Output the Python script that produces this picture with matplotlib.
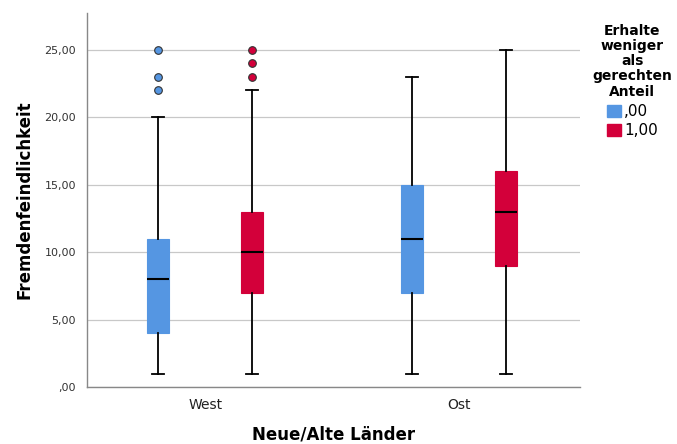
import matplotlib.pyplot as plt
import matplotlib.patches as mpatches
from matplotlib.ticker import FuncFormatter

groups = ['West', 'Ost']
series = [',00', '1,00']
colors = ['#5596E2', '#D3003A']

# five-number summaries: [low whisker, q1, median, q3, high whisker]
west_00 = [1, 4, 8, 11, 20]
west_100 = [1, 7, 10, 13, 22]
ost_00 = [1, 7, 11, 15, 23]
ost_100 = [1, 9, 13, 16, 25]
west_00_out = [22, 23, 25]
west_100_out = [23, 24, 25]
ost_00_out = []
ost_100_out = []

summaries = [[west_00, west_100], [ost_00, ost_100]]
outliers = [[west_00_out, west_100_out], [ost_00_out, ost_100_out]]

fig = plt.figure(figsize=(6.77, 4.44), dpi=100)
ax = fig.add_axes([0.1285, 0.1284, 0.7285, 0.8423])

offset = 0.185
width = 0.087
for gi, g in enumerate(groups):
    for si in range(len(series)):
        lo, q1, med, q3, hi = summaries[gi][si]
        st = dict(whislo=lo, q1=q1, med=med, q3=q3, whishi=hi, fliers=outliers[gi][si])
        pos = gi + (si - 0.5) * 2 * offset
        ax.bxp([st], positions=[pos], widths=width, patch_artist=True,
               boxprops=dict(facecolor=colors[si], edgecolor=colors[si], linewidth=0.8),
               medianprops=dict(color='black', linewidth=1.5),
               whiskerprops=dict(color='black', linewidth=1.3),
               capprops=dict(color='black', linewidth=1.3),
               capwidths=width * 0.55,
               flierprops=dict(marker='o', markersize=5.5, markerfacecolor=colors[si],
                               markeredgecolor='#333333', markeredgewidth=0.8),
               zorder=3)

ax.set_xlim(-0.465, 1.476)
ax.set_ylim(0, 27.74)
ax.set_xticks(range(len(groups)))
ax.set_xticklabels(groups, fontsize=10, color='#222222')
ax.set_yticks([0, 5, 10, 15, 20, 25])
ax.yaxis.set_major_formatter(FuncFormatter(
    lambda v, p: ',00' if v == 0 else f'{v:.2f}'.replace('.', ',')))
ax.tick_params(axis='y', labelsize=8, colors='#333333', length=0, pad=8)
ax.tick_params(axis='x', length=0, pad=8)
ax.grid(axis='y', color='#C8C8C8', linewidth=0.9, zorder=0)
ax.set_axisbelow(True)
for s in ['top', 'right']:
    ax.spines[s].set_visible(False)
for s in ['left', 'bottom']:
    ax.spines[s].set_color('#888888')
    ax.spines[s].set_linewidth(1.0)

ax.set_xlabel('Neue/Alte Länder', fontsize=12, fontweight='bold', labelpad=10)
ax.set_ylabel('Fremdenfeindlichkeit', fontsize=12, fontweight='bold', labelpad=8)

handles = [mpatches.Patch(facecolor=c, edgecolor=c, label=l) for c, l in zip(colors, series)]
leg = fig.legend(handles=handles, title='Erhalte\nweniger\nals\ngerechten\nAnteil',
                 loc='upper center', bbox_to_anchor=(0.934, 0.978), frameon=False,
                 fontsize=11, handlelength=0.9, handleheight=0.9, handletextpad=0.2,
                 labelspacing=0.25, title_fontproperties=dict(weight='bold', size=10))
leg.get_title().set_multialignment('center')
leg.get_title().set_linespacing(1.12)
leg._legend_box.align = 'center'
leg._legend_box.sep = 4

fig.savefig('out.png', dpi=100)
